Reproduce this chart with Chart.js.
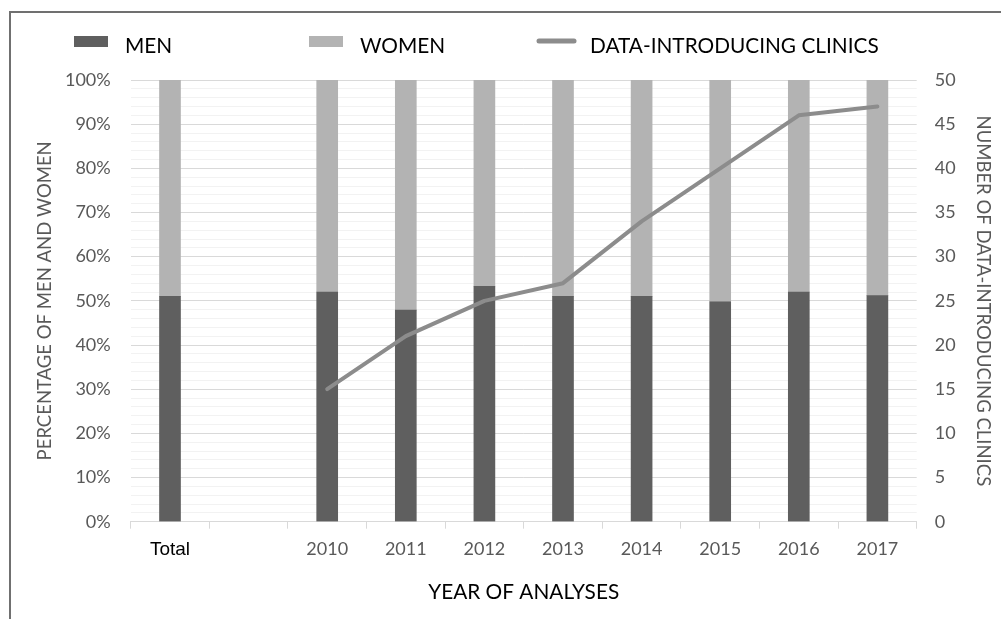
<!DOCTYPE html>
<html>
<head>
<meta charset="utf-8">
<script src="https://cdn.jsdelivr.net/npm/chart.js@4.4.1/dist/chart.umd.min.js"></script>
<style>
  body { margin: 0; background: #fff; overflow: hidden; }
  #wrap { position: relative; width: 1001px; height: 619px; }
  #frame {
    position: absolute; left: 9px; top: 11px; width: 1100px; height: 700px;
    border-top: 2px solid #707070; border-left: 2px solid #707070;
  }
  #myChart { position: absolute; left: 0; top: 0; }
</style>
</head>
<body>
<div id="wrap">
  <div id="frame"></div>
  <canvas id="myChart" width="1001" height="619"></canvas>
</div>
<script>
// categories on the x axis (second slot is left empty in the original)
const categories = ["Total", "", "2010", "2011", "2012", "2013", "2014", "2015", "2016", "2017"];
// share of men and women, in %
const men = [51.0, null, 52.0, 47.9, 53.3, 51.0, 51.0, 49.8, 52.0, 51.2];
const women = [49.0, null, 48.0, 52.1, 46.7, 49.0, 49.0, 50.2, 48.0, 48.8];
// number of clinics that sent data
const clinics = [null, null, 15, 21, 25, 27, 34, 40, 46, 47];

const font = "Lato";
const grey = "#595959";

// legend drawn on the canvas, spaced like the original
const legendPlugin = {
  id: "topLegend",
  afterDraw(chart) {
    const c = chart.ctx;
    const xs = [74, 309, 537];
    c.save();
    c.font = "20.8px " + font;
    c.fillStyle = "#000";
    c.textBaseline = "alphabetic";
    chart.data.datasets.forEach((ds, i) => {
      const x = xs[i];
      if (ds.type === "line") {
        c.strokeStyle = ds.borderColor;
        c.lineWidth = 5;
        c.lineCap = "round";
        c.beginPath();
        c.moveTo(x + 2, 41);
        c.lineTo(x + 37, 41);
        c.stroke();
        c.fillStyle = "#000";
        c.fillText(ds.label, x + 53, 53);
      } else {
        c.fillStyle = ds.backgroundColor;
        c.fillRect(x, 36, 34, 11);
        c.fillStyle = "#000";
        c.fillText(ds.label, x + 51, 53);
      }
    });
    c.restore();
  },
};

window.addEventListener("load", setup);

function setup() {
  const ctx = document.getElementById("myChart").getContext("2d");
  new Chart(ctx, {
    data: {
      labels: categories,
      datasets: [
        {
          type: "bar",
          label: "MEN",
          data: men,
          backgroundColor: "#5f5f5f",
          barThickness: 21,
          yAxisID: "y",
          order: 1,
        },
        {
          type: "bar",
          label: "WOMEN",
          data: women,
          backgroundColor: "#b3b3b3",
          barThickness: 21,
          yAxisID: "y",
          order: 2,
        },
        {
          type: "line",
          label: "DATA-INTRODUCING CLINICS",
          data: clinics,
          borderColor: "#8c8c8c",
          borderWidth: 4,
          borderCapStyle: "round",
          borderJoinStyle: "round",
          pointRadius: 0,
          tension: 0,
          fill: false,
          yAxisID: "y1",
          order: 0,
        },
      ],
    },
    options: {
      responsive: false,
      animation: false,
      layout: { padding: { top: 80, left: 0, right: 0, bottom: 0 } },
      plugins: { legend: { display: false }, tooltip: { enabled: false } },
      scales: {
        x: {
          stacked: true,
          afterFit: (s) => { s.height = 97.3; },
          grid: { drawOnChartArea: false, drawTicks: true, tickLength: 7, color: "#d9d9d9", offset: true },
          border: { color: "#d9d9d9" },
          ticks: {
            autoSkip: false,
            maxRotation: 0,
            padding: 10,
            color: (c) => (c.index === 0 ? "#000" : grey),
            font: (c) => (c.index === 0
              ? { family: "'Liberation Sans Narrow', 'Arial Narrow', sans-serif", size: 19 }
              : { family: font, size: 18 }),
          },
          title: {
            display: true,
            text: "YEAR OF ANALYSES",
            color: "#000",
            font: { family: font, size: 20.8 },
            padding: { top: 0, bottom: 14 },
          },
        },
        y: {
          stacked: true,
          position: "left",
          min: 0,
          max: 100,
          afterFit: (s) => { s.width = 130.7; },
          grid: {
            drawTicks: false,
            color: (c) => (c.tick && c.tick.value % 10 === 0 ? "#d9d9d9" : "#f2f2f2"),
          },
          border: { display: false },
          ticks: {
            stepSize: 2,
            autoSkip: false,
            padding: 20,
            color: grey,
            font: { family: font, size: 18 },
            callback: (v) => (v % 10 === 0 ? v + "%" : ""),
          },
          title: {
            display: true,
            text: "PERCENTAGE OF MEN AND WOMEN",
            color: grey,
            font: { family: font, size: 18.5 },
            padding: { top: 34, bottom: 0 },
          },
        },
        y1: {
          position: "right",
          min: 0,
          max: 50,
          afterFit: (s) => { s.width = 84.3; },
          grid: { drawOnChartArea: false, drawTicks: false },
          border: { display: false },
          ticks: {
            stepSize: 1,
            autoSkip: false,
            padding: 18,
            color: grey,
            font: { family: font, size: 18 },
            callback: (v) => (v % 5 === 0 ? v : ""),
          },
          title: {
            display: true,
            text: "NUMBER OF DATA-INTRODUCING CLINICS",
            color: grey,
            font: { family: font, size: 18.5 },
            padding: { top: 7, bottom: 0 },
          },
        },
      },
    },
    plugins: [legendPlugin],
  });
}
</script>
</body>
</html>
